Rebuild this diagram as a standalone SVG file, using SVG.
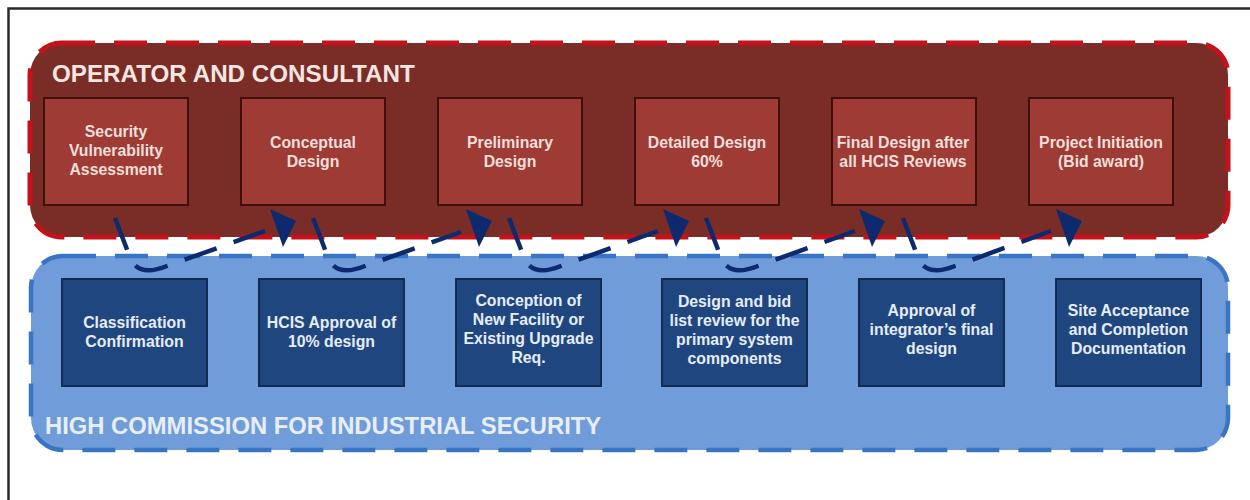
<svg xmlns="http://www.w3.org/2000/svg" xmlns:xlink="http://www.w3.org/1999/xlink" width="1250" height="500" viewBox="0 0 1250 500">
<style>
.frame{fill:#ffffff;stroke:#2a2a2a;stroke-width:2.5}
.lane-red{fill:#7a2d27;stroke:#c3121a;stroke-width:5;stroke-dasharray:33 19}
.lane-blue{fill:#709dd9;stroke:#3a74c4;stroke-width:4.5;stroke-dasharray:33 19}
.box-red{fill:#9e3b35;stroke:#3f0f0c;stroke-width:2}
.box-blue{fill:#1f467f;stroke:#132b52;stroke-width:2}
.lane-title{font-family:"Liberation Sans",Arial,sans-serif;font-weight:bold}
.t-red{fill:#f6e6e2;font-size:24.2px}
.t-blue{fill:#e8eef8;font-size:23.8px}
.lbl{font-family:"Liberation Sans",Arial,sans-serif;font-weight:bold;font-size:15.8px;text-anchor:middle}
.lbl-red{fill:#f3dfda}
.lbl-blue{fill:#e6edf7}
.conn{fill:none;stroke:#0e2a6e;stroke-width:4.5;stroke-dasharray:34 18}
.head{fill:#0e2a6e}
</style>
<defs>
<path id="arrowhead" d="M0,0 L26,12 L13,38 Z"/>
</defs>
<rect class="frame" x="8.5" y="8.5" width="1270" height="510"/>
<g id="lane-operator">
<rect class="lane-red" x="30" y="43" width="1198" height="194" rx="32" ry="32"/>
<text class="lane-title t-red" x="52" y="82">OPERATOR AND CONSULTANT</text>
</g>
<g id="lane-hcis">
<rect class="lane-blue" x="31" y="256" width="1197" height="194" rx="32" ry="32"/>
<text class="lane-title t-blue" x="45" y="434">HIGH COMMISSION FOR INDUSTRIAL SECURITY</text>
</g>
<g id="n-sva">
<rect class="box-red" x="44" y="98" width="144" height="107"/>
<text class="lbl lbl-red" x="116" y="137">Security</text>
<text class="lbl lbl-red" x="116" y="156">Vulnerability</text>
<text class="lbl lbl-red" x="116" y="175">Assessment</text>
</g>
<g id="n-conceptual">
<rect class="box-red" x="241" y="98" width="144" height="107"/>
<text class="lbl lbl-red" x="313" y="148">Conceptual</text>
<text class="lbl lbl-red" x="313" y="167">Design</text>
</g>
<g id="n-preliminary">
<rect class="box-red" x="438" y="98" width="144" height="107"/>
<text class="lbl lbl-red" x="510" y="148">Preliminary</text>
<text class="lbl lbl-red" x="510" y="167">Design</text>
</g>
<g id="n-detailed">
<rect class="box-red" x="635" y="98" width="144" height="107"/>
<text class="lbl lbl-red" x="707" y="148">Detailed Design</text>
<text class="lbl lbl-red" x="707" y="167">60%</text>
</g>
<g id="n-final">
<rect class="box-red" x="832" y="98" width="144" height="107"/>
<text class="lbl lbl-red" x="903" y="148">Final Design after</text>
<text class="lbl lbl-red" x="903" y="167">all HCIS Reviews</text>
</g>
<g id="n-initiation">
<rect class="box-red" x="1029" y="98" width="144" height="107"/>
<text class="lbl lbl-red" x="1101" y="148">Project Initiation</text>
<text class="lbl lbl-red" x="1101" y="167">(Bid award)</text>
</g>
<g id="n-classification">
<rect class="box-blue" x="62" y="279" width="145" height="107"/>
<text class="lbl lbl-blue" x="134.5" y="328">Classification</text>
<text class="lbl lbl-blue" x="134.5" y="347">Confirmation</text>
</g>
<g id="n-approval10">
<rect class="box-blue" x="259" y="279" width="145" height="107"/>
<text class="lbl lbl-blue" x="331.5" y="328">HCIS Approval of</text>
<text class="lbl lbl-blue" x="331.5" y="347">10% design</text>
</g>
<g id="n-conception">
<rect class="box-blue" x="456" y="279" width="145" height="107"/>
<text class="lbl lbl-blue" x="528.5" y="306">Conception of</text>
<text class="lbl lbl-blue" x="528.5" y="325">New Facility or</text>
<text class="lbl lbl-blue" x="528.5" y="344">Existing Upgrade</text>
<text class="lbl lbl-blue" x="528.5" y="363">Req.</text>
</g>
<g id="n-bidreview">
<rect class="box-blue" x="662" y="279" width="145" height="107"/>
<text class="lbl lbl-blue" x="734.5" y="307">Design and bid</text>
<text class="lbl lbl-blue" x="734.5" y="326">list review for the</text>
<text class="lbl lbl-blue" x="734.5" y="345">primary system</text>
<text class="lbl lbl-blue" x="734.5" y="364">components</text>
</g>
<g id="n-integrator">
<rect class="box-blue" x="859" y="279" width="145" height="107"/>
<text class="lbl lbl-blue" x="931.5" y="316">Approval of</text>
<text class="lbl lbl-blue" x="931.5" y="335">integrator’s final</text>
<text class="lbl lbl-blue" x="931.5" y="354">design</text>
</g>
<g id="n-acceptance">
<rect class="box-blue" x="1056" y="279" width="145" height="107"/>
<text class="lbl lbl-blue" x="1128.5" y="316">Site Acceptance</text>
<text class="lbl lbl-blue" x="1128.5" y="335">and Completion</text>
<text class="lbl lbl-blue" x="1128.5" y="354">Documentation</text>
</g>
<g id="connectors">
<path class="conn" d="M115,218 L131,260 Q140,277 167,266 L265,231"/>
<use class="head" href="#arrowhead" xlink:href="#arrowhead" transform="translate(270,209)"/>
<path class="conn" d="M313,218 L329,260 Q338,277 365,266 L461,232"/>
<use class="head" href="#arrowhead" xlink:href="#arrowhead" transform="translate(466,209)"/>
<path class="conn" d="M509,218 L525,260 Q534,277 561,266 L658,231"/>
<use class="head" href="#arrowhead" xlink:href="#arrowhead" transform="translate(663,209)"/>
<path class="conn" d="M706,218 L722,260 Q731,277 758,266 L855,231"/>
<use class="head" href="#arrowhead" xlink:href="#arrowhead" transform="translate(859,209)"/>
<path class="conn" d="M903,218 L919,260 Q928,277 955,266 L1051,231"/>
<use class="head" href="#arrowhead" xlink:href="#arrowhead" transform="translate(1056,209)"/>
</g>
</svg>
